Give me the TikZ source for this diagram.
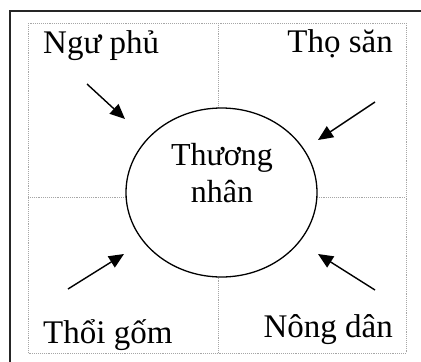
\documentclass[tikz,border=0pt]{standalone}
\usepackage{fontspec}
\setmainfont{Liberation Serif}
\usetikzlibrary{arrows.meta,shapes.geometric}

\begin{document}
\begin{tikzpicture}[x=1pt,y=-1pt,
    grid/.style={gray!70,line width=0.9pt,densely dotted},
    label/.style={font=\fontsize{33}{37}\selectfont,inner sep=0pt},
    feed/.style={line width=1.4pt,-{Triangle[length=15pt,width=13pt]}}]
  \useasboundingbox (0,0) rectangle (421,362);
  % outer frame (only left and top edges are visible)
  \draw[line width=2pt,black!85] (10,362) -- (10,11) -- (421,11);
  % inner quarters
  \draw[grid] (28,23) rectangle (406,353);
  \draw[grid] (218,23) -- (218,353);
  \draw[grid] (28,197) -- (406,197);
  % centre
  \node[ellipse,draw,line width=1.3pt,fill=white,minimum width=191pt,minimum height=169pt]
        (merchant) at (221.5,192.5) {};
  \node[label,align=center,anchor=base,font=\fontsize{32}{37}\selectfont]
        (merchanttext) at (222,202) {Thương\\nhân};
  % corner labels
  \node[label,anchor=base west] (fisher) at (43,53) {Ngư phủ};
  \node[label,anchor=base east] (hunter) at (393,52) {Thọ săn};
  \node[label,anchor=base west] (potter) at (43,343) {Thổi gốm};
  \node[label,anchor=base east] (farmer) at (393,337) {Nông dân};
  % arrows
  \coordinate (a1) at (87,84);   \coordinate (b1) at (125,119);
  \coordinate (a2) at (375,102); \coordinate (b2) at (318,140);
  \coordinate (a3) at (68,289);  \coordinate (b3) at (124,254);
  \coordinate (a4) at (375,290); \coordinate (b4) at (318,254);
  \foreach \i in {1,...,4}{\draw[feed] (a\i) -- (b\i);}
\end{tikzpicture}
\end{document}
